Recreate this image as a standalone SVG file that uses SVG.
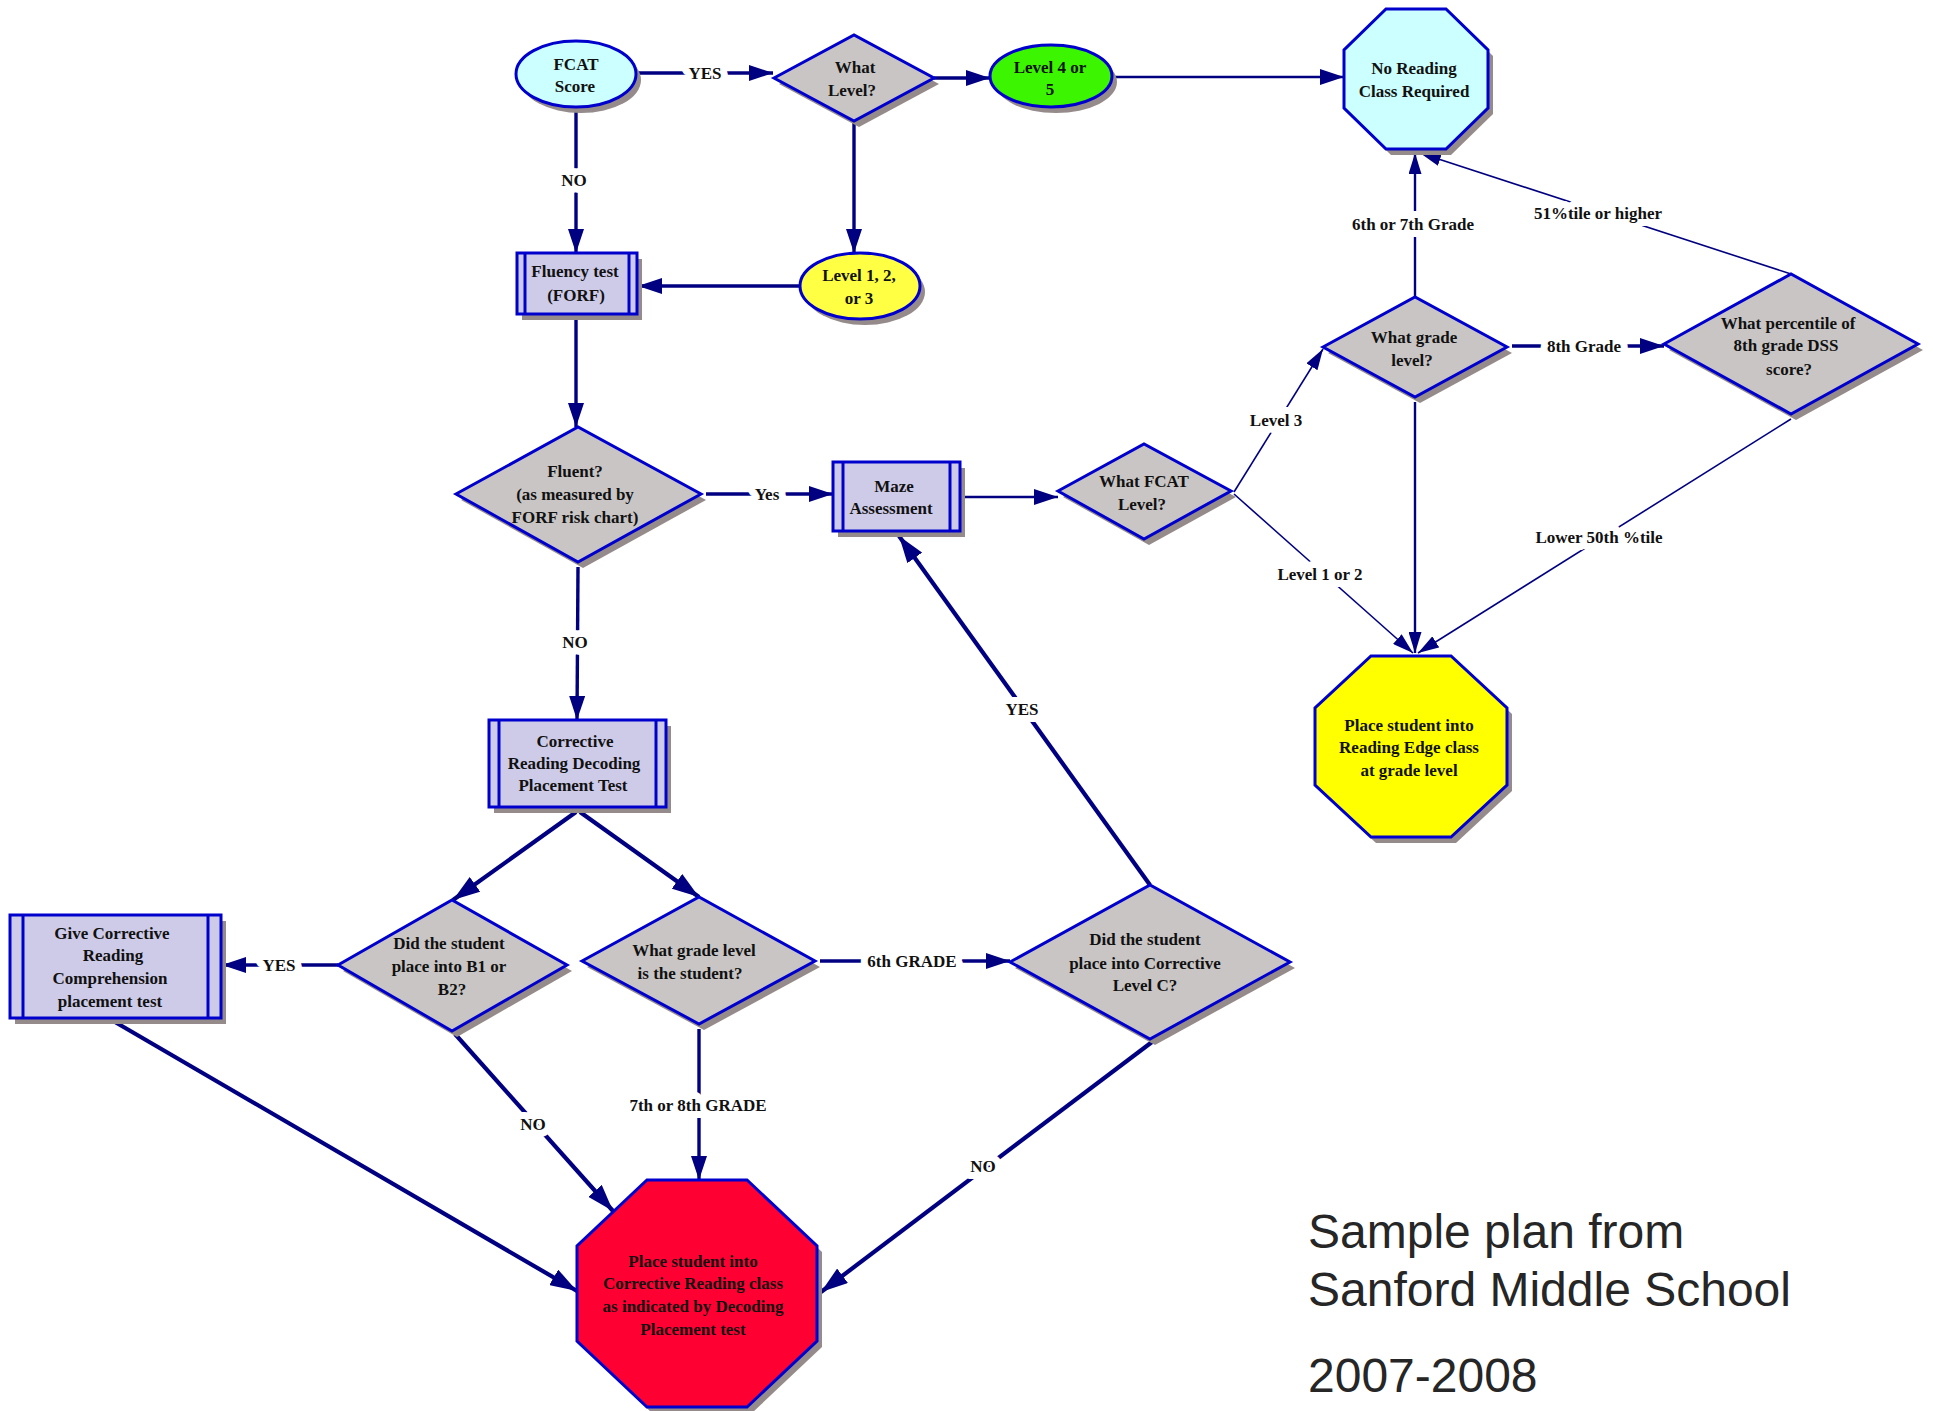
<svg xmlns="http://www.w3.org/2000/svg" width="1933" height="1411" viewBox="0 0 1933 1411">
<defs>
<marker id="ah" markerUnits="userSpaceOnUse" markerWidth="24" markerHeight="16" refX="24" refY="8" orient="auto"><path d="M0,0 L24,8 L0,16 z" fill="#000080"/></marker>
<marker id="ahl" markerUnits="userSpaceOnUse" markerWidth="27" markerHeight="18" refX="27" refY="9" orient="auto"><path d="M0,0 L27,9 L0,18 z" fill="#000080"/></marker>
<marker id="ahs" markerUnits="userSpaceOnUse" markerWidth="21" markerHeight="13" refX="21" refY="6.5" orient="auto"><path d="M0,0 L21,6.5 L0,13 z" fill="#000080"/></marker>
</defs>
<style>
.sh{fill:#958b8b;stroke:none}
.n{stroke:#0000cc;stroke-width:3}
.dia{fill:#c9c5c5}
.box{fill:#cecbe9}
.il{stroke:#0000cc;stroke-width:3;fill:none}
.t{font-family:"Liberation Serif","Times New Roman",serif;font-weight:bold;font-size:17px;fill:#111;text-anchor:middle}
.lb{font-family:"Liberation Serif","Times New Roman",serif;font-weight:bold;font-size:17px;fill:#111;text-anchor:middle;stroke:#fff;stroke-width:14px;paint-order:stroke;stroke-linejoin:round}
.c{stroke:#000080;fill:none;stroke-width:3.4}
.cl{stroke:#000080;fill:none;stroke-width:4.2}
.cm{stroke:#000080;fill:none;stroke-width:2.4}
.cs{stroke:#000080;fill:none;stroke-width:1.6}
.title{font-family:"Liberation Sans",Arial,sans-serif;font-size:48px;fill:#262626}
</style>
<rect width="1933" height="1411" fill="#fff"/>

<g id="connectors">
<line class="c" x1="637" y1="73" x2="773" y2="73" marker-end="url(#ah)"/>
<line class="c" x1="934" y1="78" x2="990" y2="78" marker-end="url(#ah)"/>
<line class="cm" x1="1112" y1="77" x2="1344" y2="77" marker-end="url(#ah)"/>
<line class="c" x1="576" y1="107" x2="576" y2="253" marker-end="url(#ah)"/>
<line class="c" x1="854" y1="121" x2="854" y2="253" marker-end="url(#ah)"/>
<line class="c" x1="800" y1="286" x2="638" y2="286" marker-end="url(#ah)"/>
<line class="c" x1="576" y1="319" x2="576" y2="427" marker-end="url(#ah)"/>
<line class="c" x1="706" y1="494" x2="833" y2="494" marker-end="url(#ah)"/>
<line class="cm" x1="965" y1="497" x2="1058" y2="497" marker-end="url(#ah)"/>
<line class="cs" x1="1234" y1="492" x2="1323" y2="349" marker-end="url(#ahs)"/>
<line class="cs" x1="1234" y1="494" x2="1413" y2="653" marker-end="url(#ahs)"/>
<line class="cm" x1="1415" y1="297" x2="1415" y2="153" marker-end="url(#ahs)"/>
<line class="c" x1="1512" y1="346" x2="1664" y2="346" marker-end="url(#ah)"/>
<line class="cs" x1="1791" y1="274" x2="1420" y2="153" marker-end="url(#ahs)"/>
<line class="cm" x1="1415" y1="402" x2="1415" y2="653" marker-end="url(#ahs)"/>
<line class="cs" x1="1791" y1="419" x2="1418" y2="653" marker-end="url(#ahs)"/>
<line class="c" x1="578" y1="567" x2="577" y2="720" marker-end="url(#ah)"/>
<line class="cl" x1="576" y1="812" x2="453" y2="900" marker-end="url(#ahl)"/>
<line class="cl" x1="580" y1="812" x2="699" y2="897" marker-end="url(#ahl)"/>
<line class="c" x1="338" y1="965" x2="222" y2="965" marker-end="url(#ah)"/>
<line class="c" x1="820" y1="961" x2="1010" y2="961" marker-end="url(#ah)"/>
<line class="cl" x1="1150" y1="885" x2="899" y2="536" marker-end="url(#ahl)"/>
<line class="cl" x1="455" y1="1034" x2="613" y2="1211" marker-end="url(#ahl)"/>
<line class="c" x1="699" y1="1029" x2="699" y2="1180" marker-end="url(#ah)"/>
<line class="cl" x1="1152" y1="1042" x2="821" y2="1292" marker-end="url(#ahl)"/>
<line class="cl" x1="115" y1="1022" x2="577" y2="1291" marker-end="url(#ahl)"/>
<text class="lb" x="705" y="79">YES</text>
<text class="lb" x="574" y="186">NO</text>
<text class="lb" x="767" y="500">Yes</text>
<text class="lb" x="1276" y="426">Level 3</text>
<text class="lb" x="1320" y="580">Level 1 or 2</text>
<text class="lb" x="1413" y="230">6th or 7th Grade</text>
<text class="lb" x="1584" y="352">8th Grade</text>
<text class="lb" x="1598" y="219">51%tile or higher</text>
<text class="lb" x="1599" y="543">Lower 50th %tile</text>
<text class="lb" x="575" y="648">NO</text>
<text class="lb" x="279" y="971">YES</text>
<text class="lb" x="912" y="967">6th GRADE</text>
<text class="lb" x="1022" y="715">YES</text>
<text class="lb" x="533" y="1130">NO</text>
<text class="lb" x="698" y="1111">7th or 8th GRADE</text>
<text class="lb" x="983" y="1172">NO</text>
</g>

<g id="fcat">
<ellipse class="sh" cx="581" cy="80" rx="60" ry="33"/>
<ellipse class="n" cx="576" cy="74" rx="60" ry="33" fill="#ccffff"/>
<text class="t" x="576" y="70">FCAT</text>
<text class="t" x="575" y="92">Score</text>
</g>

<g id="what-level">
<polygon class="sh" points="779,84 859,41 939,84 859,127"/>
<polygon class="n dia" points="774,78 854,35 934,78 854,121"/>
<text class="t" x="855" y="73">What</text>
<text class="t" x="852" y="96">Level?</text>
</g>

<g id="level45">
<ellipse class="sh" cx="1056" cy="82" rx="61" ry="31"/>
<ellipse class="n" cx="1051" cy="76" rx="61" ry="31" fill="#3cf500"/>
<text class="t" x="1050" y="73">Level 4 or</text>
<text class="t" x="1050" y="95">5</text>
</g>

<g id="no-reading">
<polygon class="sh" points="1391,15 1451,15 1493,56 1493,114 1451,155 1391,155 1349,114 1349,56"/>
<polygon class="n" fill="#ccffff" points="1386,9 1446,9 1488,50 1488,108 1446,149 1386,149 1344,108 1344,50"/>
<text class="t" x="1414" y="74">No Reading</text>
<text class="t" x="1414" y="97">Class Required</text>
</g>

<g id="level123">
<ellipse class="sh" cx="865" cy="292" rx="60" ry="33"/>
<ellipse class="n" cx="860" cy="286" rx="60" ry="33" fill="#ffff44"/>
<text class="t" x="859" y="281">Level 1, 2,</text>
<text class="t" x="859" y="304">or 3</text>
</g>

<g id="fluency">
<rect class="sh" x="522" y="259" width="120" height="61"/>
<rect class="n box" x="517" y="253" width="120" height="61"/>
<line class="il" x1="525" y1="253" x2="525" y2="314"/>
<line class="il" x1="629" y1="253" x2="629" y2="314"/>
<text class="t" x="575" y="277">Fluency test</text>
<text class="t" x="576" y="301">(FORF)</text>
</g>

<g id="fluent">
<polygon class="sh" points="461,500 583,433 706,500 583,568"/>
<polygon class="n dia" points="456,494 578,427 701,494 578,562"/>
<text class="t" x="575" y="477">Fluent?</text>
<text class="t" x="575" y="500">(as measured by</text>
<text class="t" x="575" y="523">FORF risk chart)</text>
</g>

<g id="maze">
<rect class="sh" x="838" y="468" width="127" height="69"/>
<rect class="n box" x="833" y="462" width="127" height="69"/>
<line class="il" x1="843" y1="462" x2="843" y2="531"/>
<line class="il" x1="950" y1="462" x2="950" y2="531"/>
<text class="t" x="894" y="492">Maze</text>
<text class="t" x="891" y="514">Assessment</text>
</g>

<g id="what-fcat">
<polygon class="sh" points="1063,497 1149,450 1236,497 1149,545"/>
<polygon class="n dia" points="1058,491 1144,444 1231,491 1144,539"/>
<text class="t" x="1144" y="487">What FCAT</text>
<text class="t" x="1142" y="510">Level?</text>
</g>

<g id="grade-level-top">
<polygon class="sh" points="1328,353 1420,303 1512,353 1420,403"/>
<polygon class="n dia" points="1323,347 1415,297 1507,347 1415,397"/>
<text class="t" x="1414" y="343">What grade</text>
<text class="t" x="1412" y="366">level?</text>
</g>

<g id="percentile">
<polygon class="sh" points="1669,350 1796,280 1923,350 1796,420"/>
<polygon class="n dia" points="1664,344 1791,274 1918,344 1791,414"/>
<text class="t" x="1788" y="329">What percentile of</text>
<text class="t" x="1786" y="351">8th grade DSS</text>
<text class="t" x="1789" y="375">score?</text>
</g>

<g id="reading-edge">
<polygon class="sh" points="1376,662 1456,662 1512,714 1512,791 1456,843 1376,843 1320,791 1320,714"/>
<polygon class="n" fill="#ffff00" points="1371,656 1451,656 1507,708 1507,785 1451,837 1371,837 1315,785 1315,708"/>
<text class="t" x="1409" y="731">Place student into</text>
<text class="t" x="1409" y="753">Reading Edge class</text>
<text class="t" x="1409" y="776">at grade level</text>
</g>

<g id="cr-decoding">
<rect class="sh" x="494" y="726" width="177" height="87"/>
<rect class="n box" x="489" y="720" width="177" height="87"/>
<line class="il" x1="499" y1="720" x2="499" y2="807"/>
<line class="il" x1="656" y1="720" x2="656" y2="807"/>
<text class="t" x="575" y="747">Corrective</text>
<text class="t" x="574" y="769">Reading Decoding</text>
<text class="t" x="573" y="791">Placement Test</text>
</g>

<g id="b1b2">
<polygon class="sh" points="343,971 457,906 572,971 457,1037"/>
<polygon class="n dia" points="338,965 452,900 567,965 452,1031"/>
<text class="t" x="449" y="949">Did the student</text>
<text class="t" x="449" y="972">place into B1 or</text>
<text class="t" x="452" y="995">B2?</text>
</g>

<g id="give-comprehension">
<rect class="sh" x="15" y="921" width="211" height="103"/>
<rect class="n box" x="10" y="915" width="211" height="103"/>
<line class="il" x1="23" y1="915" x2="23" y2="1018"/>
<line class="il" x1="208" y1="915" x2="208" y2="1018"/>
<text class="t" x="112" y="939">Give Corrective</text>
<text class="t" x="113" y="961">Reading</text>
<text class="t" x="110" y="984">Comprehension</text>
<text class="t" x="110" y="1007">placement test</text>
</g>

<g id="grade-level-bottom">
<polygon class="sh" points="587,967 704,903 820,967 704,1030"/>
<polygon class="n dia" points="582,961 699,897 815,961 699,1024"/>
<text class="t" x="694" y="956">What grade level</text>
<text class="t" x="690" y="979">is the student?</text>
</g>

<g id="level-c">
<polygon class="sh" points="1015,968 1155,891 1295,968 1155,1045"/>
<polygon class="n dia" points="1010,962 1150,885 1290,962 1150,1039"/>
<text class="t" x="1145" y="945">Did the student</text>
<text class="t" x="1145" y="969">place into Corrective</text>
<text class="t" x="1145" y="991">Level C?</text>
</g>

<g id="corrective-class">
<polygon class="sh" points="652,1186 752,1186 822,1252 822,1347 752,1413 652,1413 582,1347 582,1252"/>
<polygon class="n" fill="#ff0033" points="647,1180 747,1180 817,1246 817,1341 747,1407 647,1407 577,1341 577,1246"/>
<text class="t" x="693" y="1267">Place student into</text>
<text class="t" x="693" y="1289">Corrective Reading class</text>
<text class="t" x="693" y="1312">as indicated by Decoding</text>
<text class="t" x="693" y="1335">Placement test</text>
</g>

<g id="title">
<text class="title" x="1308" y="1248">Sample plan from</text>
<text class="title" x="1308" y="1306">Sanford Middle School</text>
<text class="title" x="1308" y="1392">2007-2008</text>
</g>
</svg>
